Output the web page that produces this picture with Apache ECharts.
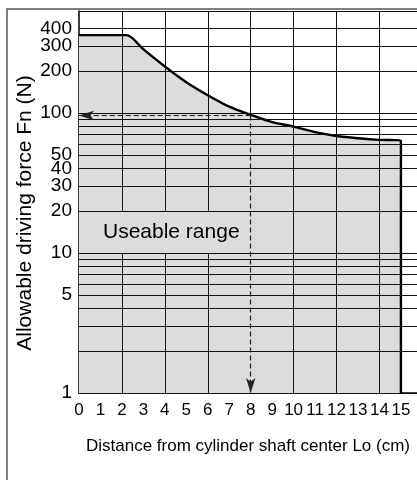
<!DOCTYPE html>
<html>
<head>
<meta charset="utf-8">
<script src="https://cdn.jsdelivr.net/npm/echarts@6/dist/echarts.min.js"></script>
<style>html,body{margin:0;padding:0;background:#fff}#c{width:417px;height:480px}</style>
</head>
<body>
<div id="c"></div>
<script>
// ---- data ----
const distance = [0, 2.2, 3, 4, 5, 6, 7, 8, 9, 10, 11, 12, 13, 14, 15, 15];
const force    = [360, 360, 285, 215, 166, 134, 111, 97, 86, 80, 73, 68.5, 66, 64.3, 63.6, 1];
const xTickLabels = [0,1,2,3,4,5,6,7,8,9,10,11,12,13,14,15];
const yTickLabels = [1,5,10,20,30,40,50,100,200,300,400];
const yGridValues = [1,2,3,4,5,6,7,8,9,10,20,30,40,50,60,70,80,90,100,200,300,400];
const xGridValues = [2,4,6,8,10,12,14];
const readX = 8;
const readY = 96;
const textBandLow = 10, textBandHigh = 20;   // gridlines gap behind the label
const rangeLabel = 'Useable range';
const rangeLabelAt = [4.3, 14];
const xTitle = 'Distance from cylinder shaft center Lo (cm)';
const yTitle = 'Allowable driving force Fn (N)';

const Y_MIN = 1, Y_MAX = 535, X_MAX = 15.75;
const FONT = '"Liberation Sans", Arial, Helvetica, sans-serif';

// horizontal gridlines (+ y labels)
const hLines = yGridValues.map(v => ({
  yAxis: v,
  label: {show: yTickLabels.indexOf(v) >= 0, position: 'start', formatter: String(v), distance: 7,
          fontSize: 19, color: '#000', fontFamily: FONT}
}));
hLines.push({yAxis: Y_MAX});
// vertical gridlines
const vLines = [];
xGridValues.forEach(x => {
  if (x === readX) {
    vLines.push([{coord: [x, readY]}, {coord: [x, Y_MAX]}]);
  } else if (x < 7.5) {
    vLines.push([{coord: [x, Y_MIN]}, {coord: [x, textBandLow]}]);
    vLines.push([{coord: [x, textBandHigh]}, {coord: [x, Y_MAX]}]);
  } else {
    vLines.push({xAxis: x});
  }
});

const chart = echarts.init(document.getElementById('c'), null, {renderer: 'canvas'});
chart.setOption({
  animation: false,
  backgroundColor: '#fff',
  textStyle: {fontFamily: FONT},
  grid: {left: 79, right: 0, top: 11, bottom: 87, containLabel: false},
  xAxis: {
    type: 'value', min: 0, max: X_MAX, interval: 1,
    axisLine: {show: true, lineStyle: {color: '#000', width: 1.5}},
    axisTick: {show: true, inside: true, length: 6, lineStyle: {color: '#000'}},
    axisLabel: {
      showMaxLabel: false, fontSize: 17, color: '#000', margin: 9, fontFamily: FONT,
      formatter: v => (xTickLabels.indexOf(v) >= 0 ? String(v) : '')
    },
    splitLine: {show: false},
    name: xTitle,
    nameLocation: 'middle', nameGap: 45,
    nameTextStyle: {fontSize: 17, color: '#000', fontFamily: FONT}
  },
  yAxis: {
    type: 'log', logBase: 10, min: Y_MIN, max: Y_MAX,
    axisLine: {show: true, lineStyle: {color: '#000', width: 1.5}},
    axisTick: {show: false},
    axisLabel: {show: false},
    splitLine: {show: false}
  },
  graphic: [{
    type: 'rect', z: 100, silent: true,
    shape: {x: 7, y: 9, width: 430, height: 490},
    style: {fill: 'none', stroke: '#555', lineWidth: 1.5}
  }, {
    type: 'text', z: 100, silent: true,
    x: 25, y: 213, rotation: Math.PI / 2,
    style: {text: yTitle, fontSize: 21, fontFamily: FONT, fill: '#000',
            align: 'center', verticalAlign: 'middle'}
  }],
  series: [
    { // shaded usable region
      type: 'line', z: 1, silent: true, symbol: 'none', smooth: 0.3,
      data: distance.map((d, i) => [d, force[i]]),
      lineStyle: {width: 0},
      areaStyle: {color: '#dcdcdc', opacity: 1, origin: 'start'}
    },
    { // gridlines
      type: 'line', z: 2, silent: true, data: [],
      markLine: {
        silent: true, symbol: 'none', animation: false,
        lineStyle: {color: '#111', width: 1, type: 'solid'},
        label: {show: false},
        emphasis: {disabled: true},
        data: hLines.concat(vLines)
      }
    },
    { // boundary curve
      type: 'line', z: 3, silent: true, symbol: 'none', smooth: 0.3,
      data: distance.map((d, i) => [d, force[i]]),
      lineStyle: {color: '#000', width: 2.4}
    },
    { // reading arrows + label
      type: 'line', z: 4, silent: true, data: [],
      markLine: {
        silent: true, animation: false,
        symbol: ['none', 'arrow'], symbolSize: [7, 15],
        lineStyle: {color: '#222', width: 1.2, type: [5, 3]},
        label: {show: false},
        emphasis: {disabled: true},
        data: [
          [{coord: [readX, readY]}, {coord: [0, readY]}],
          [{coord: [readX, readY]}, {coord: [readX, Y_MIN]}]
        ]
      },
      markPoint: {
        silent: true, symbol: 'circle', symbolSize: 0,
        label: {show: true, position: 'inside', formatter: rangeLabel,
                fontSize: 21, color: '#000', fontFamily: FONT},
        data: [{coord: rangeLabelAt}]
      }
    }
  ]
});
</script>
</body>
</html>
